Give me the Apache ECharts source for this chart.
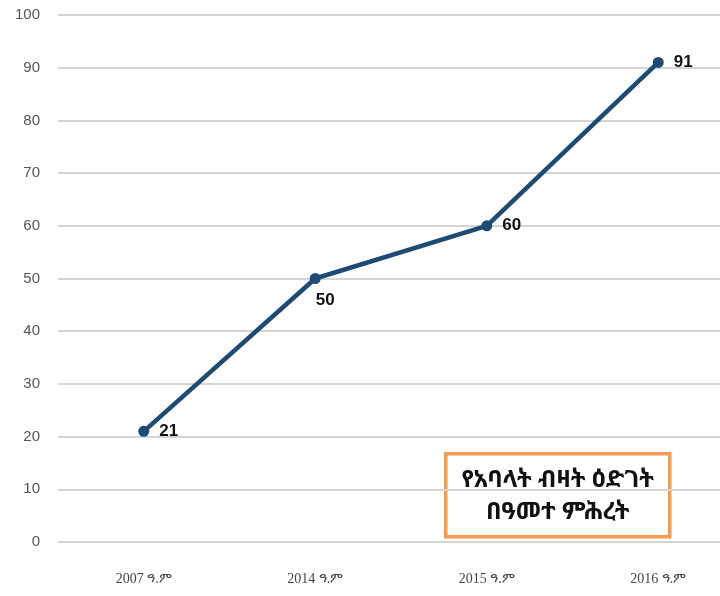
<!DOCTYPE html>
<html>
<head>
<meta charset="utf-8">
<script src="https://cdn.jsdelivr.net/npm/echarts@6/dist/echarts.min.js"></script>
<style>
html,body{margin:0;padding:0;background:#fff;}
#c{width:720px;height:596px;}
</style>
</head>
<body>
<div id="c"></div>
<script>
const categories = ['2007 ዓ.ም', '2014 ዓ.ም', '2015 ዓ.ም', '2016 ዓ.ም'];
const members = [21, 50, 60, 91];
const labelPositions = ['right', 'bottom', 'right', 'right'];
const legendLines = ['የአባላት ብዛት ዕድገት', 'በዓመተ ምሕረት'];

const chart = echarts.init(document.getElementById('c'));
chart.setOption({
  backgroundColor: '#ffffff',
  animation: false,
  grid: { left: 58, width: 686, top: 15, bottom: 54, outerBoundsMode: 'none', containLabel: false },
  xAxis: {
    type: 'category',
    data: categories,
    boundaryGap: true,
    axisLine: { show: false },
    axisTick: { show: false },
    axisLabel: { color: '#444', fontSize: 14, margin: 30, fontFamily: 'Liberation Serif, serif' }
  },
  yAxis: {
    type: 'value',
    min: 0, max: 100, interval: 10,
    axisLine: { show: false },
    axisTick: { show: false },
    axisLabel: { color: '#555', fontSize: 15, margin: 18, fontFamily: 'Liberation Sans Narrow, Liberation Sans, sans-serif' },
    splitLine: { lineStyle: { color: '#d4d4d4', width: 2 } }
  },
  series: [{
    type: 'line',
    data: members.map((v, i) => ({
      value: v,
      label: labelPositions[i] === 'bottom'
        ? { position: 'bottom', distance: 8, offset: [10, 0] }
        : { position: 'right', distance: 10 }
    })),
    symbol: 'circle',
    symbolSize: 11,
    lineStyle: { color: '#1f4a73', width: 4.5 },
    itemStyle: { color: '#1f4a73' },
    label: {
      show: true,
      color: '#111',
      fontSize: 17,
      fontWeight: 'bold',
      fontFamily: 'Liberation Sans Narrow, Liberation Sans, sans-serif'
    }
  }],
  graphic: [{
    type: 'group',
    left: 444, top: 452,
    children: [{
      type: 'rect',
      shape: { x: 0, y: 0, width: 224, height: 83 },
      style: { fill: '#fff', stroke: '#f59a4f', lineWidth: 3.5 }
    }, {
      type: 'text',
      style: {
        x: 112, y: 42,
        text: legendLines.join('\n'),
        align: 'center', verticalAlign: 'middle',
        fontSize: 24, lineHeight: 32, fontWeight: 'bold',
        fill: '#111',
        fontFamily: 'Noto Sans Ethiopic, Abyssinica SIL, Noto Sans, DejaVu Sans, sans-serif'
      }
    }]
  }]
});
</script>
</body>
</html>
